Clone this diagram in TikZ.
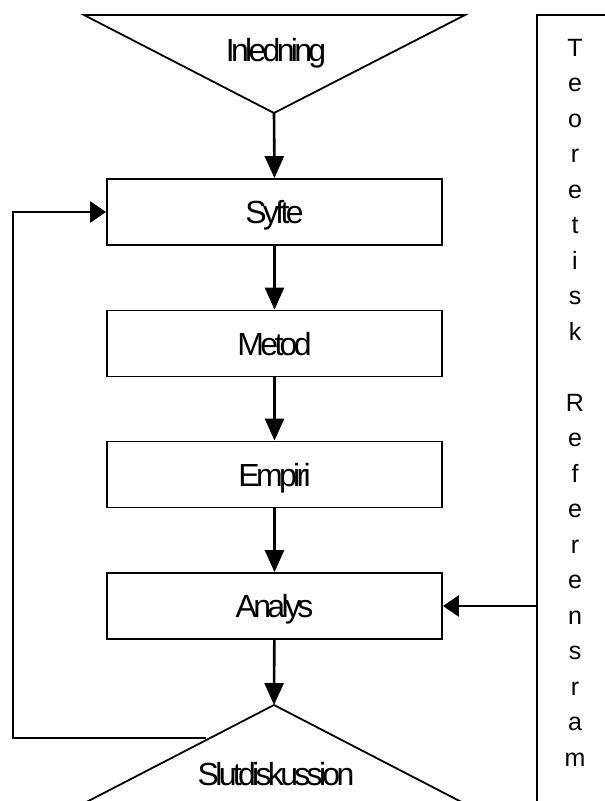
\documentclass[tikz,border=0pt]{standalone}
\usepackage{fontspec}
\setmainfont{Liberation Sans}
\newfontfamily\tightfont[LetterSpace=-11.5]{Liberation Sans}
\usetikzlibrary{arrows.meta,calc}
\begin{document}
\begin{tikzpicture}[x=1pt,y=-1pt,
  box/.style={draw,line width=1.8pt,minimum width=335pt,minimum height=66pt,inner sep=0pt,
    text height=23pt,text depth=0pt,font=\tightfont\fontsize{32}{32}\selectfont},
  lbl/.style={inner sep=0pt,font=\tightfont\fontsize{32}{32}\selectfont},
  flow/.style={line width=2.6pt,-{Triangle[length=22pt,width=19pt]}},
  side/.style={line width=2.6pt,-{Triangle[length=16pt,width=21pt]}},
  shapeline/.style={line width=1.8pt,line join=miter}]
\useasboundingbox (0,0) rectangle (605,801);
\clip (0,0) rectangle (605,801);
% top triangle
\draw[shapeline] (84,15) -- (465,15) -- (274,113) -- cycle;
\coordinate (inlapex) at (274,113);
\node[lbl,anchor=base] (inl) at (276,61) {Inledning};
% boxes
\node[box] (syfte) at (274.5,212) {Syfte};
\node[box] (metod) at (274.5,343.5) {Metod};
\node[box] (empiri) at (274.5,474.5) {Empiri};
\node[box] (analys) at (274.5,606) {Analys};
% bottom triangle
\coordinate (slutapex) at (274,705);
\draw[shapeline] (slutapex) -- (71,810) -- (477,810) -- cycle;
\node[lbl,anchor=base] (slut) at (276,785) {Slutdiskussion};
% right frame
\node[draw,line width=1.8pt,minimum width=83pt,minimum height=805pt,inner sep=0pt] (ref) at (578.5,417.5) {};
\node[anchor=north,align=center,inner sep=0pt,font=\fontsize{25}{35.5}\selectfont] (reftext) at (575,39)
  {T\\e\\o\\r\\e\\t\\i\\s\\k\\~\\R\\e\\f\\e\\r\\e\\n\\s\\r\\a\\m};
% connectors
\draw[flow] (inlapex) -- (syfte.north);
\draw[flow] (syfte) -- (metod);
\draw[flow] (metod) -- (empiri);
\draw[flow] (empiri) -- (analys);
\draw[flow] (analys) -- (slutapex);
\coordinate (fb) at (206,738);
\draw[side,line join=miter] (fb) -- (13,738) |- (syfte.west);
\draw[side] (ref.west |- analys.east) -- (analys.east);
\end{tikzpicture}
\end{document}
